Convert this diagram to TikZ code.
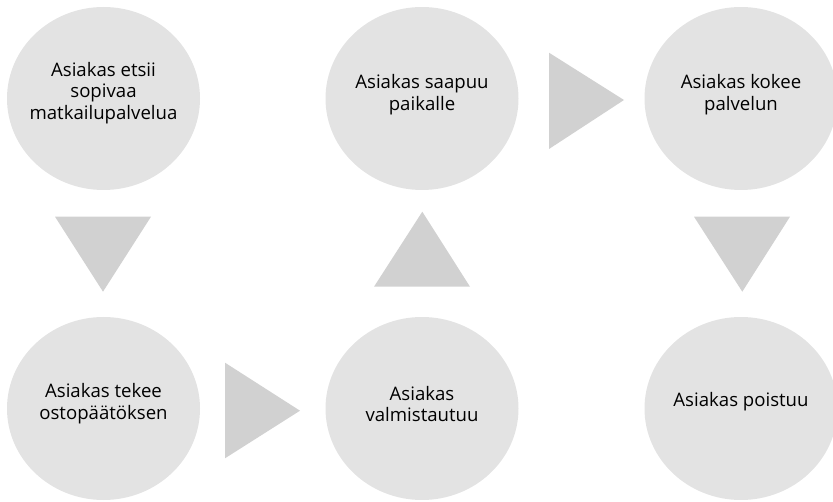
\documentclass[tikz,border=0pt]{standalone}
\usepackage{fontspec}
\setmainfont{Open Sans}
\begin{document}
\begin{tikzpicture}[x=1pt,y=-1pt,
  label/.style={text=black,align=center,font=\fontsize{18.6}{21.7}\selectfont,inner sep=0pt}]
\definecolor{stagefill}{HTML}{E3E3E3}
\definecolor{pointerfill}{HTML}{D1D1D1}
\useasboundingbox (0,0) rectangle (833,502);
% stage discs
\fill[stagefill] (103.5,98.5) ellipse [x radius=96.5, y radius=91.5];
\fill[stagefill] (422,98.5) ellipse [x radius=96.5, y radius=91.5];
\fill[stagefill] (741,98.5) ellipse [x radius=96.5, y radius=91.5];
\fill[stagefill] (103.5,408.5) ellipse [x radius=96.5, y radius=91.5];
\fill[stagefill] (422,408.5) ellipse [x radius=96.5, y radius=91.5];
\fill[stagefill] (741,408.5) ellipse [x radius=96.5, y radius=91.5];
% stage labels
\node[label] (s1) at (103.5,93) {Asiakas etsii\\sopivaa\\matkailupalvelua};
\node[label] (s2) at (422,94.5) {Asiakas saapuu\\paikalle};
\node[label] (s3) at (741,94.5) {Asiakas kokee\\palvelun};
\node[label] (s4) at (103.5,404) {Asiakas tekee\\ostopäätöksen};
\node[label] (s5) at (422,404) {Asiakas\\valmistautuu};
\node[label] (s6) at (741,401.5) {Asiakas poistuu};
% direction triangles
\fill[pointerfill] (55,216.7) -- (151,216.7) -- (103,291.7) -- cycle;
\fill[pointerfill] (225,362.7) -- (300,410.7) -- (225,458.3) -- cycle;
\fill[pointerfill] (374,286.7) -- (422.3,211.7) -- (470,286.7) -- cycle;
\fill[pointerfill] (549,52.7) -- (624,100) -- (549,149) -- cycle;
\fill[pointerfill] (694,216.7) -- (790,216.7) -- (742.3,291.7) -- cycle;
\end{tikzpicture}
\end{document}
